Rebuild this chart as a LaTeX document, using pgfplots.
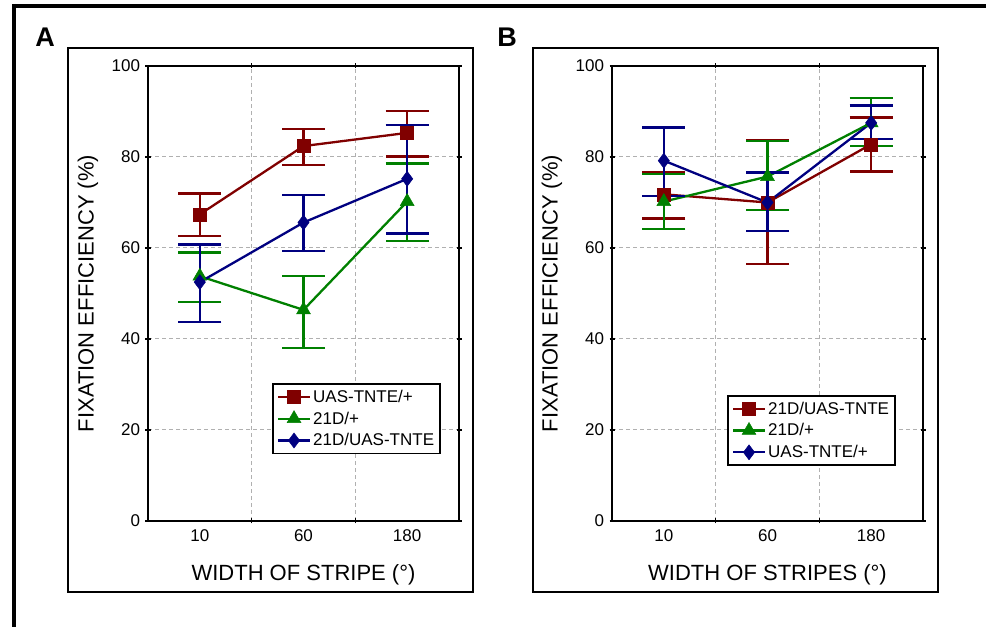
\documentclass[border=0pt]{standalone}
\usepackage{pgfplots}
\pgfplotsset{compat=1.18}
\usepackage{fontspec}
\setmainfont{Liberation Sans}
\definecolor{cr}{HTML}{800000}
\definecolor{cg}{HTML}{008000}
\definecolor{cb}{HTML}{000080}
\definecolor{gridgray}{HTML}{B0B0B0}
\pgfplotsset{
  panel/.style={
    at={#1}, anchor=south west,
    scale only axis, width=311pt, height=455pt,
    xmin=-0.5, xmax=2.5, ymin=0, ymax=100,
    xtick={0,1,2}, xticklabels={10,60,180},
    minor xtick={0.5,1.5},
    major x tick style={draw=none},
    ytick={0,20,40,60,80,100},
    xminorgrids=true, ymajorgrids=true,
    grid style={gridgray, dash pattern=on 4pt off 3pt, line width=1pt},
    minor grid style={gridgray, dash pattern=on 4pt off 3pt, line width=1pt},
    tick align=center, major tick length=5pt, minor tick length=5pt,
    tick style={black, line width=1.2pt},
    axis line style={line width=1.8pt},
    /pgf/number format/assume math mode=true,
    ticklabel style={font=\fontsize{17}{20}\selectfont},
    xticklabel style={yshift=-3pt},
    yticklabel style={xshift=-2pt},
    label style={font=\fontsize{22}{26}\selectfont},
    ylabel={FIXATION EFFICIENCY (\%)},
    ylabel style={at={(axis description cs:-0.193,0.5)}, anchor=center},
    xlabel style={at={(axis description cs:0.5,-0.119)}, anchor=center},
    legend style={draw=black, line width=1.6pt, fill=white,
      font=\fontsize{17}{20}\selectfont, row sep=4pt, inner sep=4pt,
      cells={anchor=west}},
    legend image code/.code={\draw[mark repeat=2,mark phase=2,##1] plot coordinates {(0pt,0pt) (16pt,0pt) (32pt,0pt)};},
  },
  ser/.style={color=#1, line width=2.3pt, mark options={solid, fill=#1, draw=#1, line width=0.5pt},
    error bars/y dir=both, error bars/y explicit,
    error bars/error bar style={line width=2.3pt, color=#1},
    error bars/error mark options={rotate=90, mark size=21.5pt, line width=2.3pt, color=#1}},
}
\begin{document}
\begin{tikzpicture}
\begin{scope}[x=1pt,y=1pt]
\useasboundingbox (0,0) rectangle (986,627);
\draw[line width=4.5pt] (12,621) -- (986,621);
\draw[line width=4.5pt] (14,623) -- (14,0);
\draw[line width=1.8pt] (68,579) rectangle (473,35);
\draw[line width=1.8pt] (533,579) rectangle (938,35);
\node[font=\fontsize{27}{30}\selectfont\bfseries] at (45,590) {A};
\node[font=\fontsize{27}{30}\selectfont\bfseries] at (507,590) {B};
\end{scope}

\begin{axis}[panel={(148pt,106pt)}, xlabel={WIDTH OF STRIPE (°)},
  legend style={at={(rel axis cs:0.399,0.303)}, anchor=north west}]
\addplot[ser=cr, mark=square*, mark size=6.5pt] coordinates {
 (0,67.4) += (0,4.6) -= (0,4.7)
 (1,82.4) += (0,3.7) -= (0,4.2)
 (2,85.3) += (0,4.8) -= (0,5.2)};
\addlegendentry{UAS-TNTE/+}
\addplot[ser=cg, mark=triangle*, mark size=8pt] coordinates {
 (0,53.8) += (0,5.2) -= (0,5.6)
 (1,46.4) += (0,7.5) -= (0,8.4)
 (2,70.2) += (0,8.4) -= (0,8.6)};
\addlegendentry{21D/+}
\addplot[ser=cb, mark=diamond*, mark size=7.5pt] coordinates {
 (0,52.5) += (0,8.3) -= (0,8.7)
 (1,65.6) += (0,6.0) -= (0,6.3)
 (2,75.2) += (0,11.8) -= (0,12.0)};
\addlegendentry{21D/UAS-TNTE}
\end{axis}

\begin{axis}[panel={(612pt,106pt)}, xlabel={WIDTH OF STRIPES (°)},
  legend style={at={(rel axis cs:0.370,0.277)}, anchor=north west}]
\addplot[ser=cr, mark=square*, mark size=6.5pt] coordinates {
 (0,71.8) += (0,4.8) -= (0,5.3)
 (1,70.0) += (0,13.7) -= (0,13.5)
 (2,82.8) += (0,5.9) -= (0,6.0)};
\addlegendentry{21D/UAS-TNTE}
\addplot[ser=cg, mark=triangle*, mark size=8pt] coordinates {
 (0,70.2) += (0,6.0) -= (0,6.1)
 (1,75.7) += (0,7.8) -= (0,7.3)
 (2,87.5) += (0,5.4) -= (0,5.1)};
\addlegendentry{21D/+}
\addplot[ser=cb, mark=diamond*, mark size=7.5pt] coordinates {
 (0,79.2) += (0,7.3) -= (0,7.7)
 (1,70.0) += (0,6.6) -= (0,6.2)
 (2,87.5) += (0,3.8) -= (0,3.5)};
\addlegendentry{UAS-TNTE/+}
\end{axis}
\end{tikzpicture}
\end{document}
